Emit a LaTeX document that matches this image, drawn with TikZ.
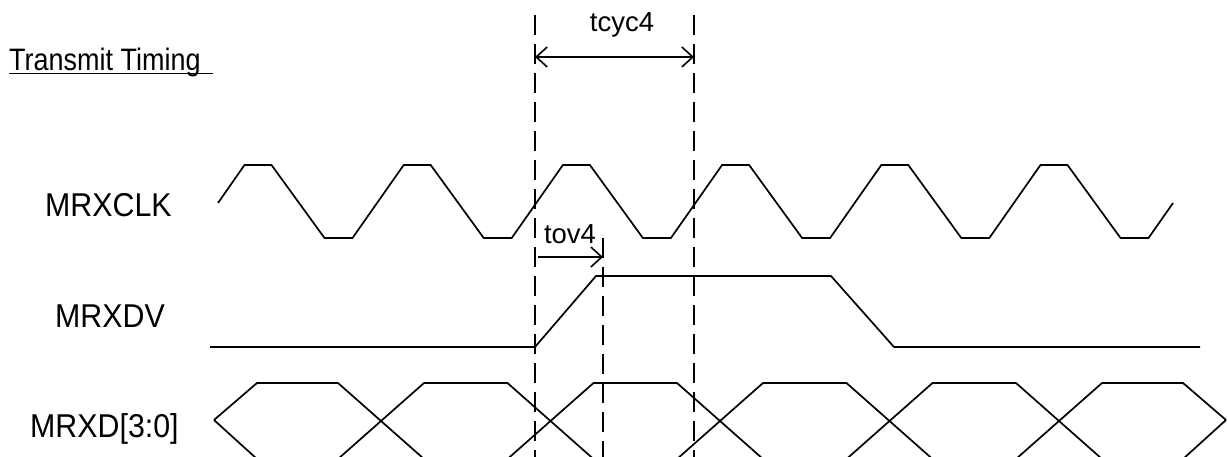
\documentclass[tikz,border=0pt]{standalone}
\usepackage{fontspec}
\setmainfont{Liberation Sans}
\newfontfamily\lblfont[FakeStretch=0.92]{Liberation Sans}
\newfontfamily\ttlfont[FakeStretch=0.87]{Liberation Sans}
\usetikzlibrary{arrows.meta}
\tikzset{mybarb/.tip={Straight Barb[length=11pt,width=20pt,line width=1.6pt]}}
\begin{document}
\begin{tikzpicture}[x=1pt,y=-1pt,
  sig/.style={line width=1.7pt, line join=miter},
  guide/.style={line width=1.3pt, dash pattern=on 20pt off 9pt},
  dim/.style={line width=1.6pt},
  biglbl/.style={font=\lblfont\fontsize{33}{38}\selectfont, inner sep=0pt, anchor=base west},
  smalllbl/.style={font=\fontsize{27.5}{32}\selectfont, inner sep=0pt, anchor=base}]
\useasboundingbox (0,0) rectangle (1228,457);
\clip (0,0) rectangle (1228,457);

% title
\node[font=\ttlfont\fontsize{31}{36}\selectfont, inner sep=0pt, anchor=base west] (title) at (9,71) {Transmit Timing};
\draw[line width=1.5pt] ([yshift=-2.5pt]title.base west) -- ++(204,0);

% signal labels
\node[biglbl] (clk) at (45,216) {MRXCLK};
\node[biglbl] (dv) at (55,327) {MRXDV};
\node[biglbl] (dat) at (30,437) {MRXD[3:0]};

% clock
\draw[sig] (218,203) \foreach \k in {0,...,5} {
  -- ({244.5+\k*159.2},165) -- ({271.5+\k*159.2},165)
  -- ({324.5+\k*159.2},238) -- ({352.5+\k*159.2},238) } -- (1173,203);

% data valid
\draw[sig] (210,347) -- (535,347) -- (596,276) -- (831,276) -- (894,347) -- (1200,347);

% data bus
\draw[sig] (214,420) -- (257,383) -- (338,383) -- (424,459) -- (507.5,459) -- (593.5,383)
  -- (677,383) -- (763,459) -- (846.5,459) -- (932.5,383) -- (1016,383) -- (1102,459)
  -- (1183,459) -- (1226,420);
\draw[sig] (214,420) -- (257,459) -- (338,459) -- (424,383) -- (507.5,383) -- (593.5,459)
  -- (677,459) -- (763,383) -- (846.5,383) -- (932.5,459) -- (1016,459) -- (1102,383)
  -- (1183,383) -- (1226,420);

% guide lines
\coordinate (gA top) at (535,15);
\coordinate (gA bot) at (535,460);
\coordinate (gB top) at (694,15);
\coordinate (gB bot) at (694,460);
\coordinate (gC top) at (603,238);
\coordinate (gC bot) at (603,460);
\draw[guide] (gA top) -- (gA bot);
\draw[guide] (gB top) -- (gB bot);
\draw[guide] (gC top) -- (gC bot);

% tcyc4
\coordinate (cycL) at (535,57);
\coordinate (cycR) at (694,57);
\draw[dim, mybarb-mybarb] (cycL) -- (cycR);
\node[smalllbl] (tcyc) at (622,32) {tcyc4};

% tov4
\coordinate (ovL) at (538,257);
\coordinate (ovR) at (603,257);
\draw[dim, -mybarb] (ovL) -- (ovR);
\node[smalllbl] (tov) at (570,243) {tov4};
\end{tikzpicture}
\end{document}
